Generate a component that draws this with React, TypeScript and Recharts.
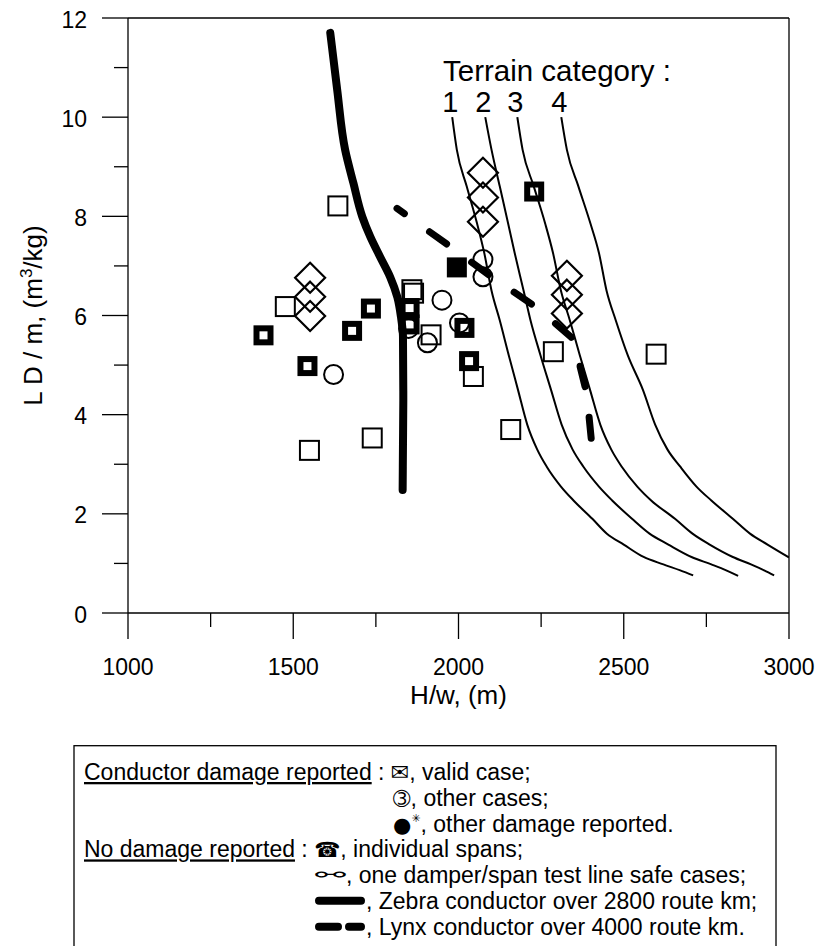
import React from 'react';
import { ComposedChart, Line, Scatter, XAxis, YAxis, ReferenceLine } from 'recharts';

const FONT = '"Liberation Sans", Arial, Helvetica, sans-serif';
const SYM = '"DejaVu Sans", "Noto Sans", sans-serif';

// axes
const xTicks = [1000, 1250, 1500, 1750, 2000, 2250, 2500, 2750, 3000];
const xMajor = [1000, 1500, 2000, 2500, 3000];
const yTicks = [0, 1, 2, 3, 4, 5, 6, 7, 8, 9, 10, 11, 12];
const yMajor = [0, 2, 4, 6, 8, 10, 12];

// Zebra conductor (thick solid)
const zebraX = [1612, 1633, 1657, 1682, 1709, 1733, 1763, 1793, 1815, 1826, 1832, 1833, 1832, 1831];
const zebraY = [11.7, 10.55, 9.34, 8.67, 7.99, 7.59, 7.18, 6.78, 6.37, 5.97, 5.57, 4.29, 3.4, 2.48];

// Lynx conductor (thick dashed)
const lynxX = [1814, 1975, 2106, 2217, 2293, 2340, 2362, 2368, 2389, 2396, 2404];
const lynxY = [8.16, 7.39, 6.75, 6.25, 5.84, 5.57, 5.35, 4.97, 4.4, 3.89, 3.35];

// Terrain category curves
const t1X = [1981, 1995, 2025, 2056, 2078, 2100, 2125, 2152, 2180, 2208, 2238, 2267, 2310, 2348, 2405, 2449, 2500, 2560, 2620, 2671, 2710];
const t1Y = [10.0, 9.34, 8.6, 7.86, 7.26, 6.5, 5.9, 5.2, 4.5, 3.8, 3.3, 2.95, 2.55, 2.27, 1.9, 1.6, 1.38, 1.13, 0.98, 0.86, 0.76];
const t2X = [2081, 2100, 2125, 2150, 2170, 2197, 2218, 2248, 2280, 2312, 2345, 2378, 2425, 2465, 2525, 2578, 2635, 2705, 2765, 2810, 2846];
const t2Y = [10.0, 9.34, 8.6, 7.86, 7.26, 6.5, 5.9, 5.2, 4.5, 3.8, 3.3, 2.95, 2.55, 2.27, 1.9, 1.6, 1.38, 1.13, 0.98, 0.86, 0.75];
const t3X = [2178, 2194, 2228, 2262, 2286, 2310, 2337, 2367, 2398, 2429, 2462, 2494, 2541, 2583, 2655, 2708, 2760, 2830, 2885, 2925, 2955];
const t3Y = [10.0, 9.34, 8.6, 7.86, 7.26, 6.5, 5.9, 5.2, 4.5, 3.8, 3.3, 2.95, 2.55, 2.27, 1.9, 1.6, 1.38, 1.13, 0.98, 0.86, 0.76];
const t4X = [2311, 2328, 2363, 2399, 2425, 2448, 2476, 2512, 2558, 2595, 2632, 2671, 2720, 2765, 2830, 2882, 2935, 3000];
const t4Y = [10.0, 9.34, 8.6, 7.86, 7.26, 6.5, 5.9, 5.2, 4.5, 3.8, 3.3, 2.95, 2.55, 2.27, 1.9, 1.6, 1.38, 1.12];
const terrainLabels = ['1', '2', '3', '4'];

// markers
const validX = [1635, 1476, 1549, 1739, 1859, 1864, 1917, 2045, 2158, 2287, 2598];
const validY = [8.21, 6.18, 3.28, 3.53, 6.52, 6.45, 5.61, 4.77, 3.7, 5.27, 5.22];
const otherX = [1622, 1849, 1906, 1950, 2003, 2074, 2074];
const otherY = [4.81, 5.74, 5.45, 6.31, 5.85, 7.13, 6.78];
const damageX = [1995];
const damageY = [6.97];
const spanX = [1410, 1543, 1678, 1735, 1852, 1852, 2018, 2032, 2229];
const spanY = [5.6, 4.98, 5.69, 6.14, 6.15, 5.82, 5.75, 5.08, 8.5];
const testX = [1551, 1551, 1551, 2074, 2074, 2074, 2328, 2328, 2328];
const testY = [6.76, 6.38, 5.99, 8.88, 8.38, 7.89, 6.8, 6.42, 6.04];

const pts = (xs: number[], ys: number[]) => xs.map((x, i) => ({ x, y: ys[i] }));

const zebra = pts(zebraX, zebraY);
const lynx = pts(lynxX, lynxY);
const terrain = [pts(t1X, t1Y), pts(t2X, t2Y), pts(t3X, t3Y), pts(t4X, t4Y)];

const XTick = (props: any) => {
  const { x, y, payload } = props;
  const major = xMajor.includes(payload.value);
  return (
    <g>
      <line x1={x} y1={y} x2={x} y2={y + (major ? 26 : 14)} stroke="#000" strokeWidth={1.3} />
      {major && (
        <text x={x} y={y + 62} textAnchor="middle" fontSize={23} fontFamily={FONT} fill="#000">
          {payload.value}
        </text>
      )}
    </g>
  );
};

const YTick = (props: any) => {
  const { x, y, payload } = props;
  const major = yMajor.includes(payload.value);
  return (
    <g>
      <line x1={x} y1={y} x2={x - (major ? 26 : 14)} y2={y} stroke="#000" strokeWidth={1.3} />
      {major && (
        <text x={x - 41} y={y + 9.5} textAnchor="end" fontSize={23} fontFamily={FONT} fill="#000">
          {payload.value}
        </text>
      )}
    </g>
  );
};

const OpenSquare = (p: any) => (
  <rect x={p.cx - 9.5} y={p.cy - 9.5} width={19} height={19} fill="none" stroke="#000" strokeWidth={2} />
);
const BoldSquare = (p: any) => (
  <rect x={p.cx - 7} y={p.cy - 7} width={14} height={14} fill="none" stroke="#000" strokeWidth={6} />
);
const FilledSquare = (p: any) => <rect x={p.cx - 10} y={p.cy - 10} width={20} height={20} fill="#000" />;
const Circ = (p: any) => <circle cx={p.cx} cy={p.cy} r={9.5} fill="none" stroke="#000" strokeWidth={2} />;
const Diamond = (p: any) => (
  <path
    d={`M${p.cx},${p.cy - 15} L${p.cx + 15},${p.cy} L${p.cx},${p.cy + 15} L${p.cx - 15},${p.cy} Z`}
    fill="none"
    stroke="#000"
    strokeWidth={2.2}
  />
);

const TerrainNum = (props: any) => {
  const { viewBox, value } = props;
  return (
    <text x={viewBox.x - 2} y={viewBox.y - 5} textAnchor="middle" fontSize={29} fontFamily={FONT} fill="#000">
      {value}
    </text>
  );
};

export default function App() {
  return (
    <div style={{ position: 'relative', width: 818, height: 946, background: '#fff', overflow: 'hidden' }}>
      <style>{'body{margin:0;}'}</style>
      <ComposedChart width={818} height={720} margin={{ top: 18, right: 29, bottom: 27, left: 0 }}>
        <XAxis
          dataKey="x"
          type="number"
          domain={[1000, 3000]}
          ticks={xTicks}
          interval={0}
          allowDataOverflow
          height={80}
          tickSize={0}
          tickMargin={0}
          tickLine={false}
          axisLine={{ stroke: '#000', strokeWidth: 1.3 }}
          tick={<XTick />}
        />
        <YAxis
          dataKey="y"
          type="number"
          domain={[0, 12]}
          ticks={yTicks}
          interval={0}
          allowDataOverflow
          width={128}
          tickSize={0}
          tickMargin={0}
          tickLine={false}
          axisLine={{ stroke: '#000', strokeWidth: 1.3 }}
          tick={<YTick />}
        />
        <ReferenceLine y={12} stroke="#000" strokeWidth={1.3} />
        <ReferenceLine x={3000} stroke="#000" strokeWidth={1.3} />
        {terrain.map((d, i) => (
          <Line
            key={'t' + i}
            data={d}
            dataKey="y"
            type="monotoneX"
            stroke="#000"
            strokeWidth={2}
            dot={false}
            activeDot={false}
            isAnimationActive={false}
            label={(lp: any) =>
              lp.index === 0 ? (
                <TerrainNum viewBox={{ x: lp.x, y: lp.y }} value={terrainLabels[i]} key={'tl' + i} />
              ) : null
            }
          />
        ))}
        <Line
          data={zebra}
          dataKey="y"
          type="monotoneY"
          stroke="#000"
          strokeWidth={8}
          strokeLinecap="round"
          strokeLinejoin="round"
          dot={false}
          activeDot={false}
          isAnimationActive={false}
        />
        <Line
          data={lynx}
          dataKey="y"
          type="linear"
          stroke="#000"
          strokeWidth={7}
          strokeLinecap="round"
          strokeLinejoin="round"
          strokeDasharray="21 31"
          strokeDashoffset={12}
          dot={false}
          activeDot={false}
          isAnimationActive={false}
        />
        <Scatter data={pts(validX, validY)} shape={OpenSquare} isAnimationActive={false} />
        <Scatter data={pts(otherX, otherY)} shape={Circ} isAnimationActive={false} />
        <Scatter data={pts(damageX, damageY)} shape={FilledSquare} isAnimationActive={false} />
        <Scatter data={pts(spanX, spanY)} shape={BoldSquare} isAnimationActive={false} />
        <Scatter data={pts(testX, testY)} shape={Diamond} isAnimationActive={false} />
      </ComposedChart>
      <svg
        width={818}
        height={946}
        style={{ position: 'absolute', left: 0, top: 0, pointerEvents: 'none' }}
        fontFamily={FONT}
      >
        <text transform="translate(42,315.5) rotate(-90)" textAnchor="middle" fontSize={26} fill="#000">
          L D / m, (m
          <tspan dy={-10} fontSize={17}>3</tspan>
          <tspan dy={10}>/kg)</tspan>
        </text>
        <text x={458.5} y={704} textAnchor="middle" fontSize={26} fill="#000">
          H/w, (m)
        </text>
        <text x={443} y={81} fontSize={29.5} fill="#000">
          Terrain category :
        </text>

        <rect x={74} y={745.7} width={702} height={230} fill="none" stroke="#000" strokeWidth={1.3} />
        <g fontSize={23} fill="#000">
          <text x={84} y={780}>
            <tspan style={{ textDecoration: 'underline' }}>Conductor damage reported</tspan>
            {' : '}
            <tspan fontFamily={SYM} fontSize={22}>✉</tspan>
            , valid case;
          </text>
          <text x={393} y={805.8}>
            <tspan fontFamily={SYM} fontSize={21}>➂</tspan>
            , other cases;
          </text>
          <text x={393} y={831.6}>
            <tspan fontFamily={SYM} fontSize={21}>●</tspan>
            <tspan fontFamily={SYM} fontSize={11} dy={-10}>✳</tspan>
            <tspan dy={10}>, other damage reported.</tspan>
          </text>
          <text x={84} y={857.4}>
            <tspan style={{ textDecoration: 'underline' }}>No damage reported</tspan>
            {' : '}
            <tspan fontFamily={SYM} fontSize={21}>☎</tspan>
            , individual spans;
          </text>
          <text x={315} y={881} fontFamily={SYM} fontSize={18} textLength={31} lengthAdjust="spacingAndGlyphs">⚯</text>
          <text x={346} y={883.2}>, one damper/span test line safe cases;</text>
          <line x1={319} y1={900.7} x2={361} y2={900.7} stroke="#000" strokeWidth={8} strokeLinecap="round" />
          <text x={366} y={909}>, Zebra conductor over 2800 route km;</text>
          <line x1={319} y1={926.7} x2={338} y2={926.7} stroke="#000" strokeWidth={8} strokeLinecap="round" />
          <line x1={349} y1={926.7} x2={361} y2={926.7} stroke="#000" strokeWidth={8} strokeLinecap="round" />
          <text x={366} y={934.8}>, Lynx conductor over 4000 route km.</text>
        </g>
      </svg>
    </div>
  );
}
